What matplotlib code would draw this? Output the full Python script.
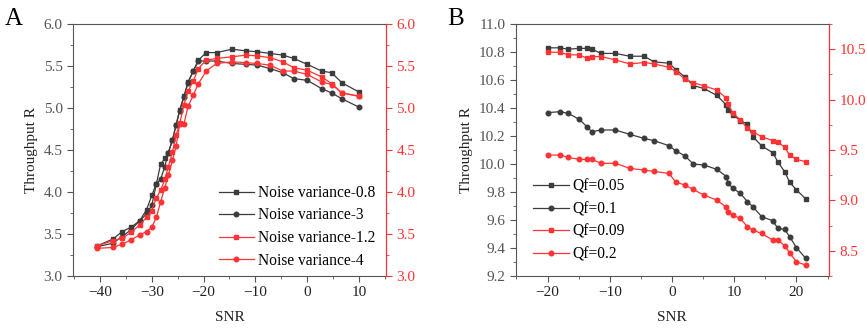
"""Throughput vs SNR, two panels with twin y axes."""

import matplotlib.pyplot as plt
from matplotlib.ticker import MultipleLocator

plt.rcParams["font.family"] = ["Liberation Serif", "DejaVu Serif"]

BLACK = "#3c3c3c"
RED = "#ff3333"
GREY = "#555555"

# ## Panel A data ###
snr_a = [-40.5, -37.5, -35.7, -34.0, -32.3, -31.0, -30.0, -29.1, -28.3, -27.5,
         -26.8, -26.0, -25.3, -24.6, -23.8, -23.0, -22.0, -21.0, -19.5, -17.5,
         -14.5, -11.8, -9.6, -7.2, -4.7, -2.6, 0.0, 2.8, 4.7, 6.7, 10.0]
nv_08 = [3.36, 3.44, 3.53, 3.58, 3.66, 3.79, 3.96, 4.10, 4.33, 4.40,
         4.47, 4.62, 4.80, 4.98, 5.14, 5.31, 5.44, 5.57, 5.66, 5.66,
         5.70, 5.68, 5.67, 5.65, 5.63, 5.59, 5.52, 5.44, 5.42, 5.30, 5.19]
nv_3 = [3.35, 3.39, 3.47, 3.55, 3.66, 3.74, 3.84, 4.10, 4.15, 4.30,
        4.47, 4.62, 4.80, 4.97, 5.13, 5.30, 5.44, 5.56, 5.56, 5.56,
        5.53, 5.52, 5.51, 5.47, 5.42, 5.35, 5.33, 5.23, 5.18, 5.11, 5.01]
nv_12 = [3.36, 3.42, 3.45, 3.52, 3.61, 3.70, 3.78, 3.93, 4.02, 4.15,
         4.30, 4.48, 4.68, 4.82, 5.04, 5.20, 5.32, 5.47, 5.57, 5.59,
         5.61, 5.63, 5.62, 5.60, 5.55, 5.48, 5.45, 5.37, 5.29, 5.18, 5.14]
nv_4 = [3.33, 3.34, 3.38, 3.43, 3.49, 3.53, 3.58, 3.70, 3.88, 4.05,
        4.20, 4.38, 4.55, 4.81, 4.81, 5.02, 5.15, 5.29, 5.44, 5.53,
        5.55, 5.54, 5.53, 5.51, 5.44, 5.44, 5.40, 5.31, 5.28, 5.18, 5.14]

# ## Panel B data ###
snr_b = [-20.0, -18.0, -16.7, -14.9, -13.7, -12.9, -11.4, -9.1, -6.8, -4.5,
         -2.9, -0.5, 0.6, 2.1, 3.4, 5.1, 7.2, 8.75, 9.0, 9.8,
         11.0, 12.1, 13.0, 14.4, 16.2, 17.0, 18.1, 18.9, 20.0, 21.5]
qf_005 = [10.83, 10.83, 10.82, 10.826, 10.826, 10.82, 10.79, 10.79, 10.77, 10.77,
          10.73, 10.72, 10.675, 10.62, 10.56, 10.54, 10.49, 10.42, 10.385, 10.35,
          10.31, 10.285, 10.195, 10.13, 10.08, 10.015, 9.945, 9.87, 9.815, 9.75]
qf_01 = [10.367, 10.374, 10.362, 10.319, 10.267, 10.231, 10.243, 10.243, 10.212, 10.183,
         10.167, 10.131, 10.095, 10.057, 10.0, 9.993, 9.962, 9.910, 9.862, 9.826,
         9.790, 9.731, 9.695, 9.624, 9.595, 9.540, 9.533, 9.481, 9.402, 9.326]
qf_009 = [10.470, 10.470, 10.444, 10.444, 10.411, 10.427, 10.427, 10.394, 10.354, 10.368,
          10.354, 10.321, 10.278, 10.202, 10.169, 10.136, 10.096, 10.013, 9.957, 9.864,
          9.798, 9.715, 9.682, 9.632, 9.593, 9.583, 9.526, 9.450, 9.407, 9.384]
qf_02 = [9.450, 9.450, 9.427, 9.407, 9.407, 9.407, 9.368, 9.368, 9.318, 9.301,
         9.288, 9.268, 9.182, 9.152, 9.109, 9.053, 9.003, 8.930, 8.887, 8.854,
         8.821, 8.738, 8.705, 8.672, 8.606, 8.606, 8.550, 8.480, 8.391, 8.358]


def style_axes(ax, ax2):
    ax.tick_params(axis="both", direction="out", labelsize=11, colors=GREY,
                   length=4, width=0.8)
    ax.tick_params(axis="x", labelcolor="#222222")
    ax.tick_params(which="minor", direction="out", length=2, width=0.6, colors=GREY)
    for s in ["left", "bottom", "top"]:
        ax.spines[s].set_color(GREY)
    ax2.spines["right"].set_color(RED)
    ax2.spines["left"].set_visible(False)
    ax2.spines["top"].set_visible(False)
    ax2.spines["bottom"].set_visible(False)
    ax2.tick_params(axis="y", direction="out", labelsize=11, colors=RED,
                    length=4, width=0.8)
    ax2.tick_params(which="minor", direction="out", length=2, width=0.6, colors=RED)
    ax.set_xlabel("SNR", fontsize=11, color="#222222", labelpad=8)
    ax.set_ylabel("Throughput R", fontsize=11, color="#222222")


fig = plt.figure(figsize=(8.67, 3.29), dpi=100)
kw = dict(lw=0.9, ms=3.3)
leg_kw = dict(frameon=False, fontsize=11.2, handlelength=2.3, handletextpad=0.25,
              labelspacing=0.42, borderaxespad=0.0)

# ## Panel A ###
ax1 = fig.add_axes([0.0842, 0.161, 0.361, 0.766])
ax1b = ax1.twinx()
l1, = ax1.plot(snr_a, nv_08, "s-", color=BLACK, label="Noise variance-0.8", **kw)
l2, = ax1.plot(snr_a, nv_3, "o-", color=BLACK, label="Noise variance-3", **kw)
l3, = ax1b.plot(snr_a, nv_12, "s-", color=RED, label="Noise variance-1.2", **kw)
l4, = ax1b.plot(snr_a, nv_4, "o-", color=RED, label="Noise variance-4", **kw)
ax1.set_xlim(-45.2, 15.2)
ax1.set_ylim(3.0, 6.0)
ax1b.set_ylim(3.0, 6.0)
ax1.xaxis.set_major_locator(MultipleLocator(10))
ax1.xaxis.set_minor_locator(MultipleLocator(5))
for a in (ax1, ax1b):
    a.yaxis.set_major_locator(MultipleLocator(0.5))
    a.yaxis.set_minor_locator(MultipleLocator(0.25))
    a.yaxis.set_major_formatter("{x:.1f}")
style_axes(ax1, ax1b)
ax1.legend(handles=[l1, l2, l3, l4], loc="lower left",
           bbox_to_anchor=(0.445, 0.005), **leg_kw)

# ## Panel B ###
ax2 = fig.add_axes([0.595, 0.161, 0.361, 0.766])
ax2b = ax2.twinx()
m1, = ax2.plot(snr_b, qf_005, "s-", color=BLACK, label="Qf=0.05", **kw)
m2, = ax2.plot(snr_b, qf_01, "o-", color=BLACK, label="Qf=0.1", **kw)
m3, = ax2b.plot(snr_b, qf_009, "s-", color=RED, label="Qf=0.09", **kw)
m4, = ax2b.plot(snr_b, qf_02, "o-", color=RED, label="Qf=0.2", **kw)
ax2.set_xlim(-25.1, 25.2)
ax2.set_ylim(9.2, 11.0)
ax2b.set_ylim(8.25, 10.75)
ax2.xaxis.set_major_locator(MultipleLocator(10))
ax2.xaxis.set_minor_locator(MultipleLocator(5))
ax2.yaxis.set_major_locator(MultipleLocator(0.2))
ax2.yaxis.set_minor_locator(MultipleLocator(0.1))
ax2.yaxis.set_major_formatter("{x:.1f}")
ax2b.yaxis.set_major_locator(MultipleLocator(0.5))
ax2b.yaxis.set_minor_locator(MultipleLocator(0.25))
ax2b.yaxis.set_major_formatter("{x:.1f}")
style_axes(ax2, ax2b)
ax2.legend(handles=[m1, m2, m3, m4], loc="lower left",
           bbox_to_anchor=(0.035, 0.03), **leg_kw)

fig.text(0.006, 0.975, "A", fontsize=18, va="top", ha="left")
fig.text(0.516, 0.975, "B", fontsize=18, va="top", ha="left")

plt.savefig("out.png", dpi=100)
